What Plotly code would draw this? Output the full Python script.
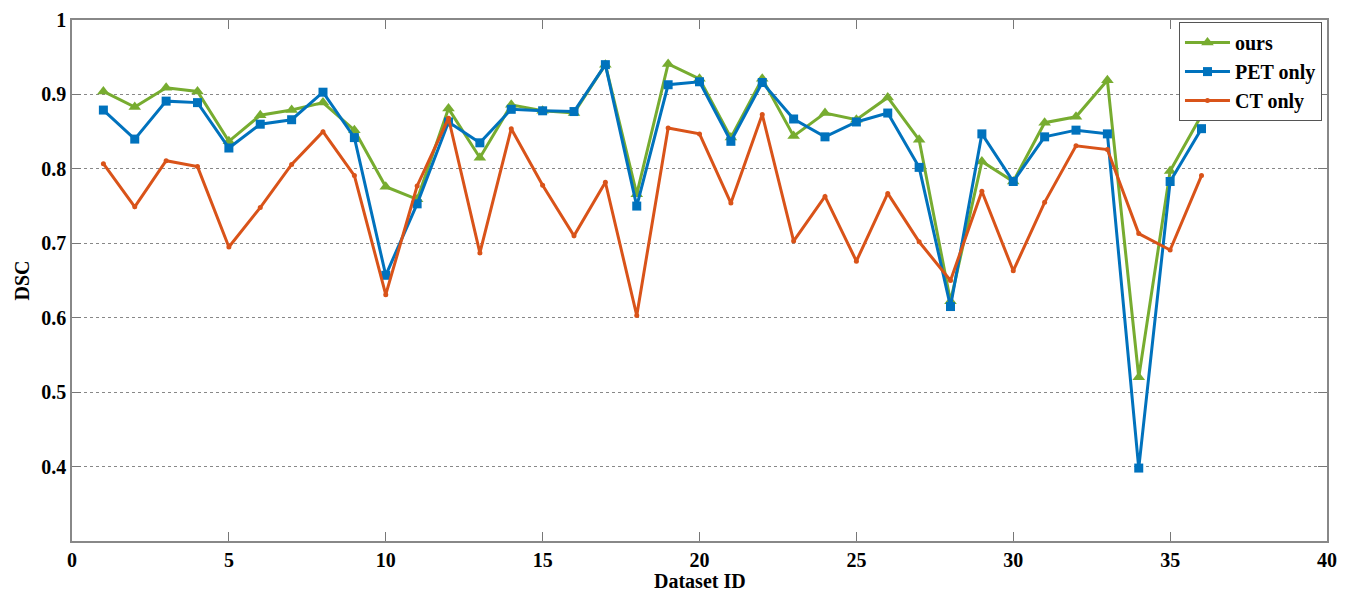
import plotly.graph_objects as go

dataset_id = list(range(1, 37))
ours = [0.904, 0.883, 0.909, 0.904, 0.837, 0.872, 0.879, 0.889, 0.852, 0.776,
        0.759, 0.881, 0.815, 0.886, 0.878, 0.875, 0.940, 0.766, 0.941, 0.921,
        0.842, 0.921, 0.844, 0.875, 0.866, 0.896, 0.839, 0.622, 0.810, 0.783,
        0.862, 0.870, 0.919, 0.520, 0.797, 0.872]
pet_only = [0.879, 0.840, 0.891, 0.889, 0.828, 0.860, 0.866, 0.903, 0.842, 0.657,
            0.753, 0.863, 0.835, 0.880, 0.878, 0.877, 0.940, 0.750, 0.913, 0.917,
            0.837, 0.916, 0.867, 0.843, 0.863, 0.875, 0.802, 0.615, 0.847, 0.783,
            0.843, 0.852, 0.847, 0.398, 0.783, 0.854]
ct_only = [0.807, 0.749, 0.811, 0.803, 0.695, 0.748, 0.806, 0.850, 0.791, 0.631,
           0.777, 0.868, 0.687, 0.854, 0.778, 0.710, 0.782, 0.603, 0.855, 0.847,
           0.754, 0.873, 0.703, 0.763, 0.676, 0.767, 0.702, 0.650, 0.770, 0.663,
           0.755, 0.831, 0.826, 0.713, 0.691, 0.791]

y_ticks = [0.4, 0.5, 0.6, 0.7, 0.8, 0.9, 1.0]
y_tick_labels = ["0.4", "0.5", "0.6", "0.7", "0.8", "0.9", "1"]
x_ticks = [0, 5, 10, 15, 20, 25, 30, 35, 40]

GREEN = "#77AC30"
BLUE = "#0072BD"
RED = "#D95319"
FONT = "Times New Roman, Liberation Serif, serif"

fig = go.Figure()
fig.add_trace(go.Scatter(x=dataset_id, y=ours, name="<b>ours</b>", mode="lines+markers",
                         line=dict(color=GREEN, width=3),
                         marker=dict(symbol="triangle-up", size=11, color=GREEN)))
fig.add_trace(go.Scatter(x=dataset_id, y=pet_only, name="<b>PET only</b>", mode="lines+markers",
                         line=dict(color=BLUE, width=3),
                         marker=dict(symbol="square", size=9, color=BLUE)))
fig.add_trace(go.Scatter(x=dataset_id, y=ct_only, name="<b>CT only</b>", mode="lines+markers",
                         line=dict(color=RED, width=3),
                         marker=dict(symbol="circle", size=5, color=RED)))

fig.update_layout(
    width=1341, height=587,
    margin=dict(l=64, r=22, t=12, b=54),
    paper_bgcolor="white", plot_bgcolor="white",
    font=dict(family=FONT, size=19, color="black"),
    showlegend=True,
    legend=dict(x=0.996, y=0.996, xanchor="right", yanchor="top",
                bgcolor="white", bordercolor="#555555", borderwidth=1,
                font=dict(family=FONT, size=20, color="black"),
                itemwidth=45, tracegroupgap=0),
    annotations=[
        dict(text="<b>Dataset ID</b>", x=0.5, y=0, xref="paper", yref="paper",
             xanchor="center", yanchor="top", yshift=-27, showarrow=False,
             font=dict(family=FONT, size=20, color="black")),
        dict(text="<b>DSC</b>", x=0, y=0.5, xref="paper", yref="paper",
             xanchor="right", yanchor="middle", xshift=-38, textangle=-90, showarrow=False,
             font=dict(family=FONT, size=20, color="black")),
    ],
)
fig.update_xaxes(
    range=[0, 40], tickvals=x_ticks, ticktext=["<b>%d</b>" % v for v in x_ticks],
    ticks="inside", ticklen=9, tickcolor="#777777", automargin=False,
    ticklabeloverflow="allow",
    showline=True, linecolor="#888888", linewidth=1.5, mirror="ticks",
    showgrid=False, zeroline=False,
    tickfont=dict(family=FONT, size=20, color="black"),
)
fig.update_yaxes(
    range=[0.3, 1.0], tickvals=y_ticks, ticktext=["<b>%s</b>" % t for t in y_tick_labels],
    ticks="inside", ticklen=9, tickcolor="#777777", automargin=False,
    ticklabeloverflow="allow",
    showline=True, linecolor="#888888", linewidth=1.5, mirror="ticks",
    showgrid=True, gridcolor="#888888", griddash="dot", gridwidth=1, zeroline=False,
    tickfont=dict(family=FONT, size=20, color="black"),
)

fig.write_html("out.html")
